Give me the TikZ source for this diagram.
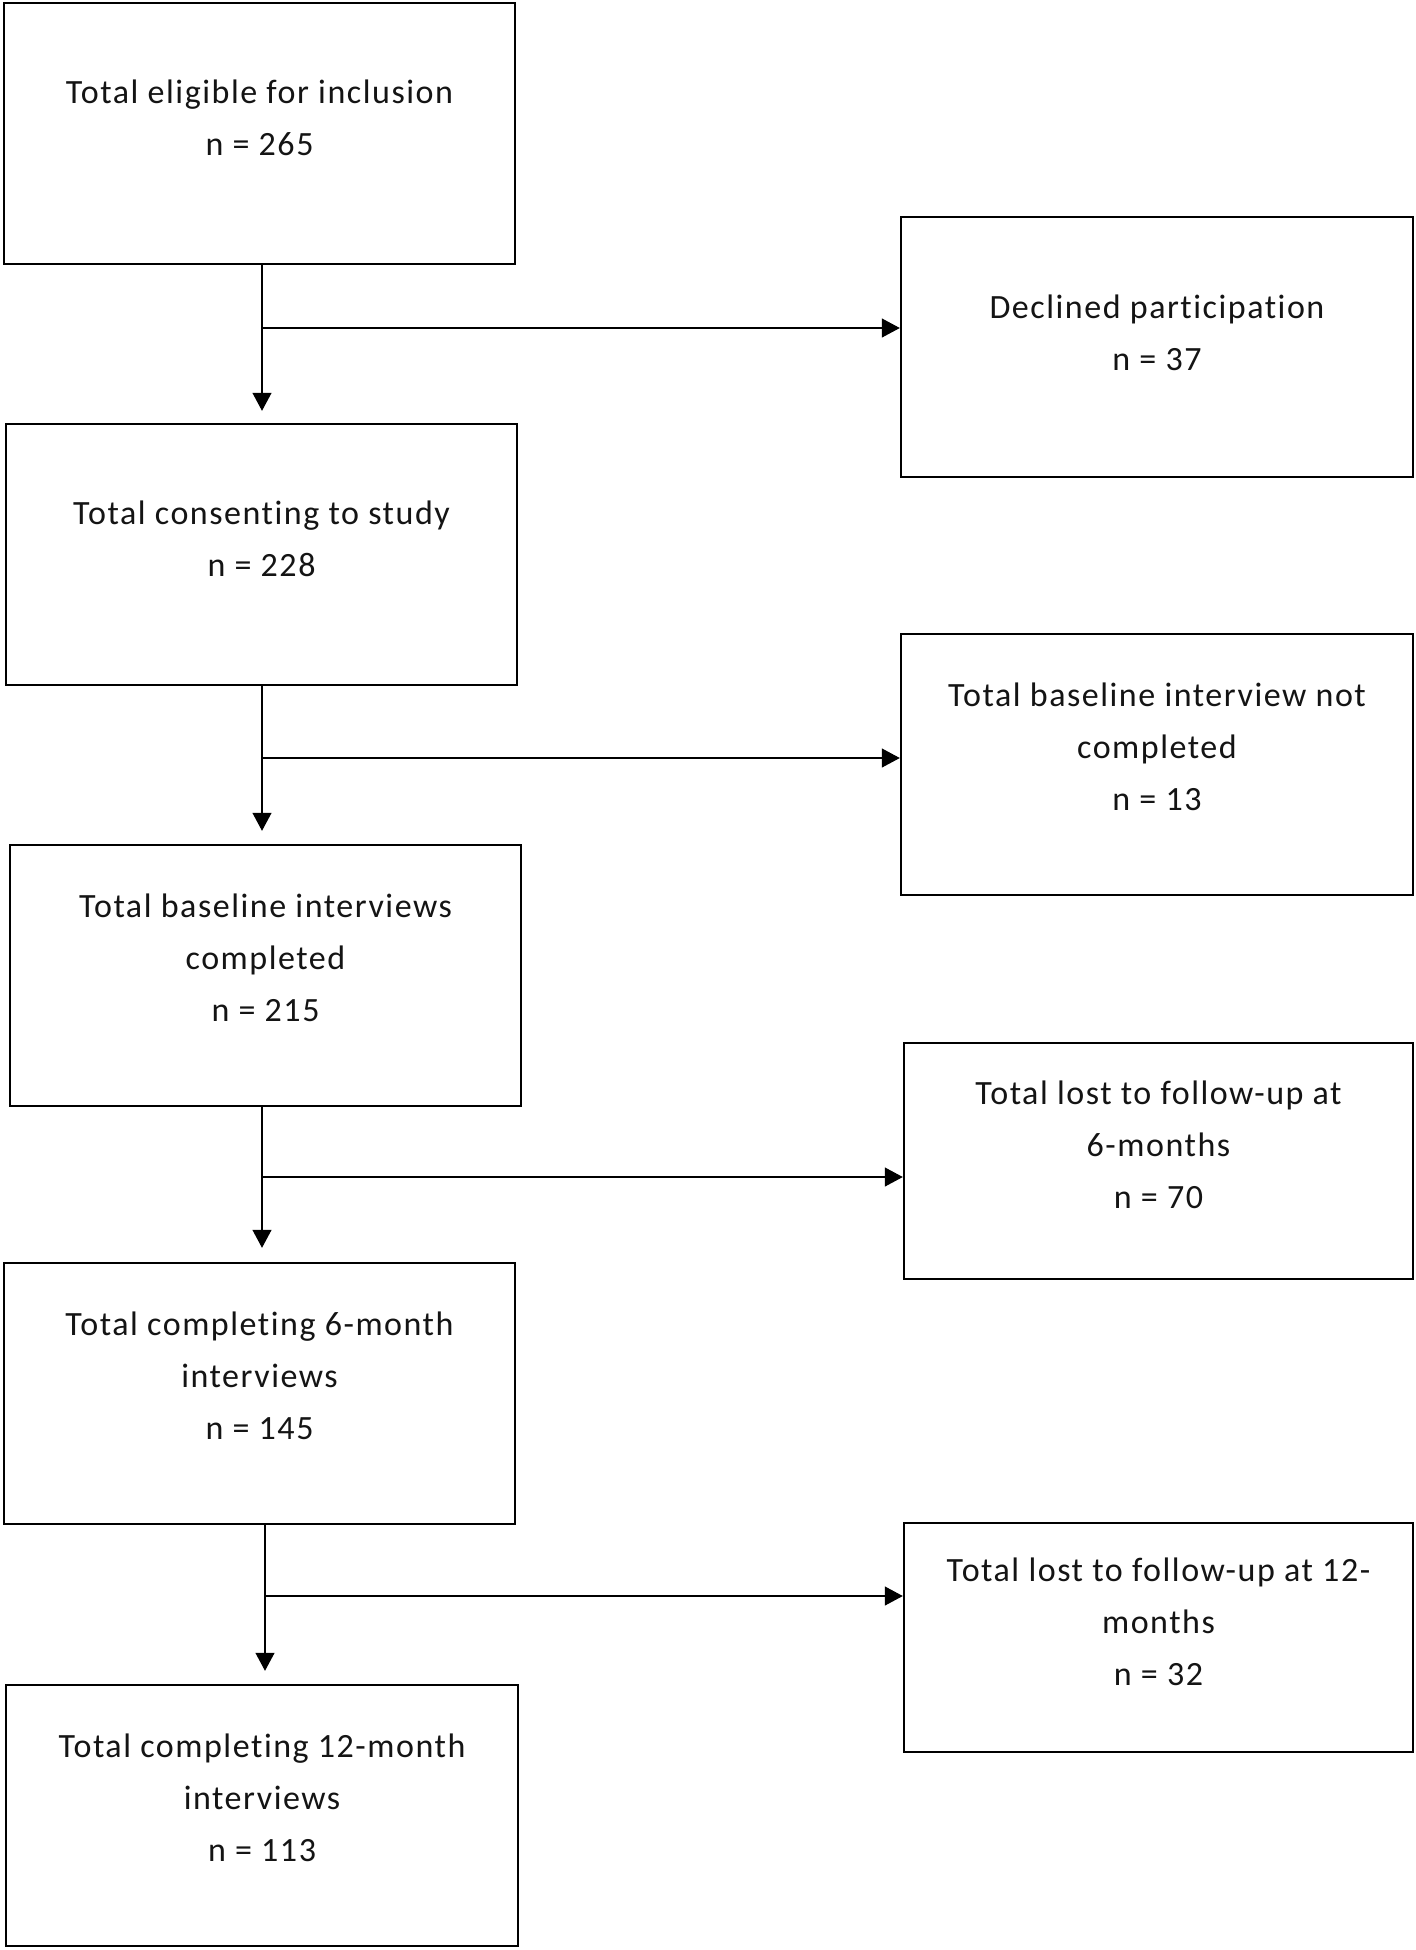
\documentclass[tikz,border=0pt]{standalone}
\usepackage{fontspec}
\setmainfont{Carlito}[LetterSpace=4.5,Ligatures=NoCommon]
\usetikzlibrary{arrows.meta}
\tikzset{
  boxx/.style={draw=black, line width=1.2pt, rectangle, inner sep=0pt, fill=white},
  lbl/.style={align=center, font=\fontsize{17pt}{26pt}\selectfont, inner sep=0pt, text=black!92},
  conn/.style={draw=black, line width=0.6pt},
  arr/.style={conn, -{Triangle[length=9pt,width=9.5pt]}}
}
\begin{document}
\begin{tikzpicture}[x=0.5pt,y=-0.5pt]
\useasboundingbox[fill=white] (0,0) rectangle (1416,1950);
% left column
\node[boxx, minimum width=255.5pt, minimum height=130.5pt] (b1) at (259.5,133.5) {};
\node[boxx, minimum width=255.5pt, minimum height=130.5pt] (b2) at (261.5,554.5) {};
\node[boxx, minimum width=255.5pt, minimum height=130.5pt] (b3) at (265.5,975.5) {};
\node[boxx, minimum width=255.5pt, minimum height=130.5pt] (b4) at (259.5,1393.5) {};
\node[boxx, minimum width=256pt, minimum height=130.5pt] (b5) at (262,1815.5) {};
% right column
\node[boxx, minimum width=256pt, minimum height=130pt] (r1) at (1157,347) {};
\node[boxx, minimum width=256pt, minimum height=130.5pt] (r2) at (1157,764.5) {};
\node[boxx, minimum width=254.5pt, minimum height=118pt] (r3) at (1158.5,1161) {};
\node[boxx, minimum width=254.5pt, minimum height=114.5pt] (r4) at (1158.5,1637.5) {};
% texts
\node[lbl] (t1) at ([yshift=8pt]b1.center) {Total eligible for inclusion\\n = 265};
\node[lbl] (t2) at ([yshift=8pt]b2.center) {Total consenting to study\\n = 228};
\node[lbl] (t3) at ([yshift=9pt]b3.center) {Total baseline interviews\\completed\\n = 215};
\node[lbl] (t4) at ([yshift=9pt]b4.center) {Total completing 6-month\\interviews\\n = 145};
\node[lbl] (t5) at ([yshift=9pt]b5.center) {Total completing 12-month\\interviews\\n = 113};
\node[lbl] (s1) at ([yshift=7pt]r1.center) {Declined participation\\n = 37};
\node[lbl] (s2) at ([yshift=9pt]r2.center) {Total baseline interview not\\completed\\n = 13};
\node[lbl] (s3) at ([yshift=8pt]r3.center) {Total lost to follow-up at\\6-months\\n = 70};
\node[lbl] (s4) at ([yshift=8pt]r4.center) {Total lost to follow-up at 12-\\months\\n = 32};
% junctions
\coordinate (j1) at (262,328);
\coordinate (j2) at (262,758);
\coordinate (j3) at (262,1177);
\coordinate (j4) at (265,1596);
% vertical arrows
\draw[arr] (b1.south -| j1) -- ([yshift=6pt]b2.north -| j1);
\draw[arr] (b2.south -| j2) -- ([yshift=6.5pt]b3.north -| j2);
\draw[arr] (b3.south -| j3) -- ([yshift=7pt]b4.north -| j3);
\draw[arr] (b4.south -| j4) -- ([yshift=6.5pt]b5.north -| j4);
% horizontal arrows
\draw[arr] (j1) -- (j1 -| r1.west);
\draw[arr] (j2) -- (j2 -| r2.west);
\draw[arr] (j3) -- (j3 -| r3.west);
\draw[arr] (j4) -- (j4 -| r4.west);
\end{tikzpicture}
\end{document}
